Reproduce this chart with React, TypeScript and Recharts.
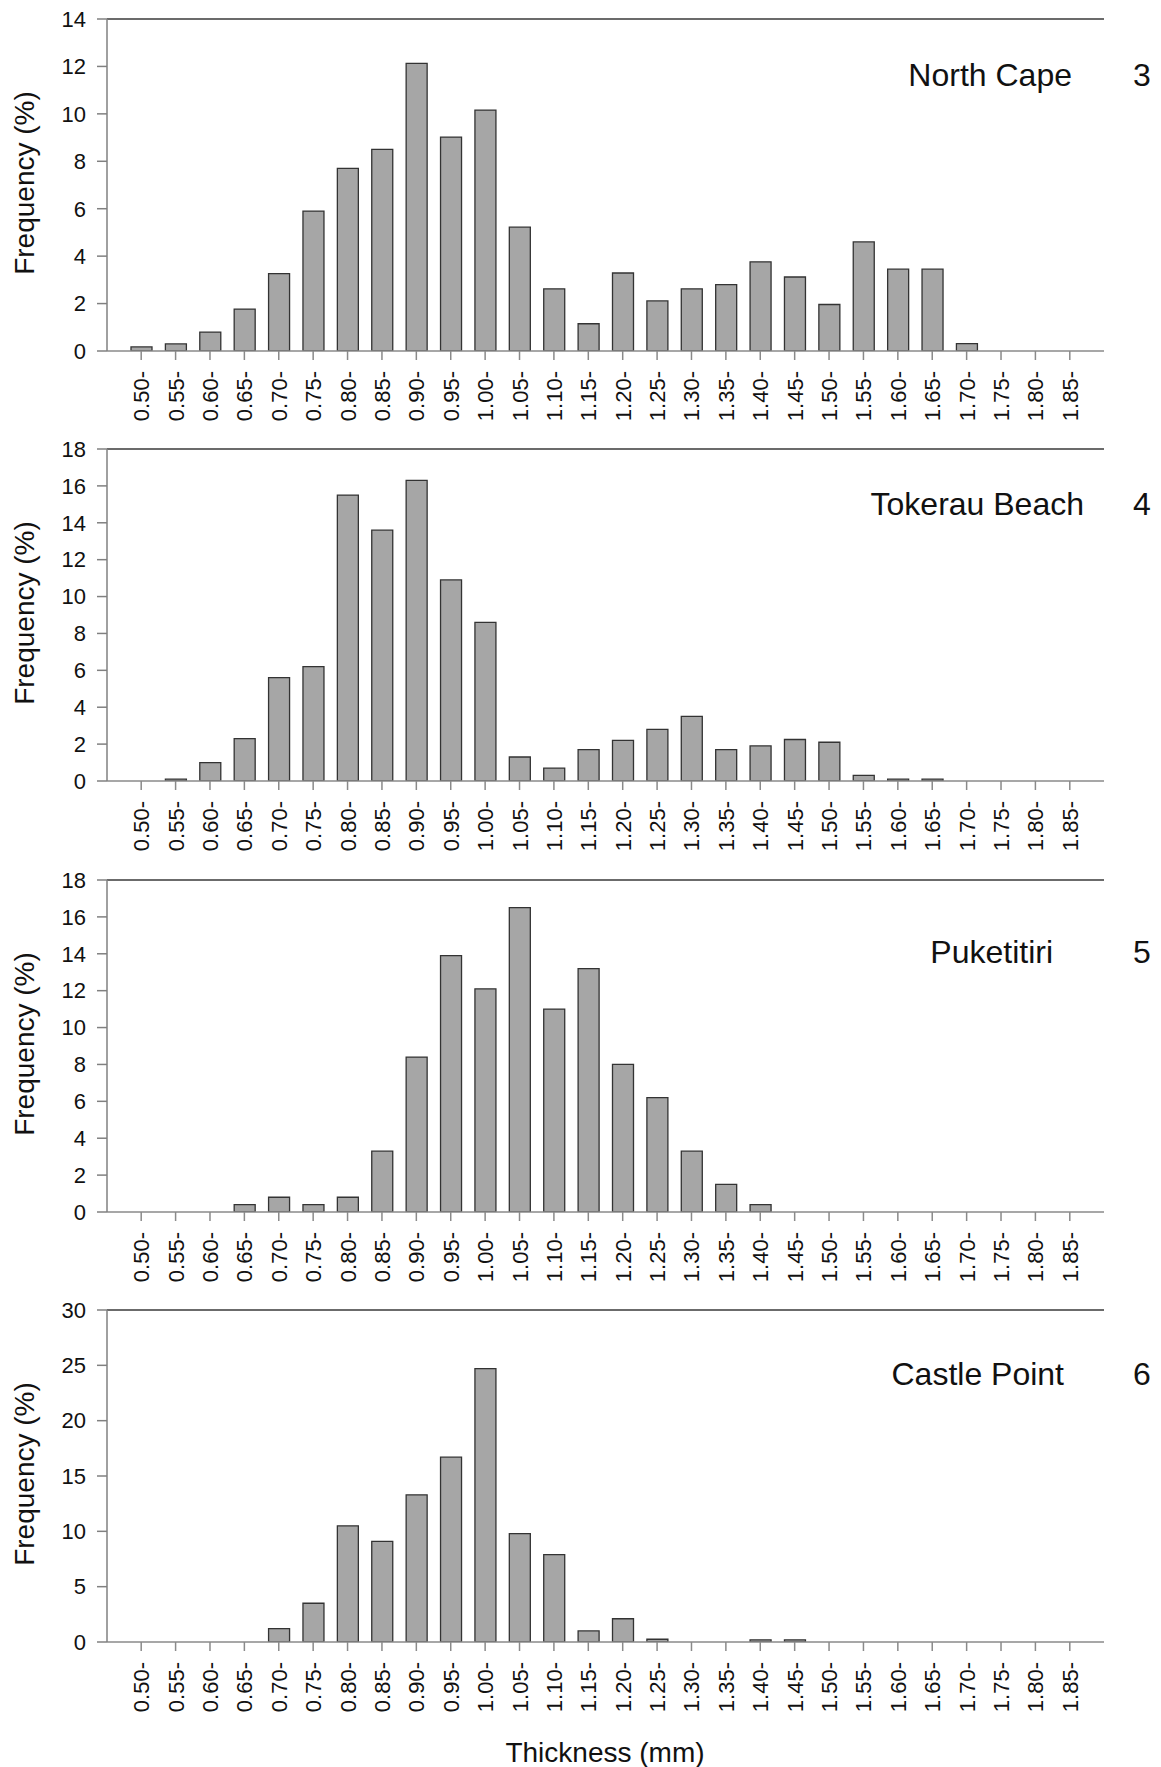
import React from 'react';
import { BarChart, Bar, XAxis, YAxis, ReferenceLine } from 'recharts';

const categories = [
  '0.50-', '0.55-', '0.60-', '0.65-', '0.70-', '0.75-', '0.80-', '0.85-', '0.90-', '0.95-',
  '1.00-', '1.05-', '1.10-', '1.15-', '1.20-', '1.25-', '1.30-', '1.35-', '1.40-', '1.45-',
  '1.50-', '1.55-', '1.60-', '1.65-', '1.70-', '1.75-', '1.80-', '1.85-',
];

const northCape = [0.17, 0.3, 0.8, 1.77, 3.26, 5.9, 7.7, 8.5, 12.13, 9.02, 10.16, 5.22, 2.62, 1.15, 3.29, 2.11, 2.62, 2.8, 3.76, 3.12, 1.96, 4.6, 3.45, 3.45, 0.31, 0, 0, 0];
const tokerauBeach = [0, 0.1, 1.0, 2.3, 5.6, 6.2, 15.5, 13.6, 16.3, 10.9, 8.6, 1.3, 0.7, 1.7, 2.2, 2.8, 3.5, 1.7, 1.9, 2.25, 2.1, 0.3, 0.1, 0.1, 0, 0, 0, 0];
const puketitiri = [0, 0, 0, 0.4, 0.8, 0.4, 0.8, 3.3, 8.4, 13.9, 12.1, 16.5, 11.0, 13.2, 8.0, 6.2, 3.3, 1.5, 0.4, 0, 0, 0, 0, 0, 0, 0, 0, 0];
const castlePoint = [0, 0, 0, 0, 1.2, 3.5, 10.5, 9.1, 13.3, 16.7, 24.7, 9.8, 7.9, 1.0, 2.1, 0.25, 0, 0, 0.2, 0.2, 0, 0, 0, 0, 0, 0, 0, 0];

const panelNames = ['North Cape', 'Tokerau Beach', 'Puketitiri', 'Castle Point'];
const panelNumbers = ['3', '4', '5', '6'];
const panelTicks = [
  [0, 2, 4, 6, 8, 10, 12, 14],
  [0, 2, 4, 6, 8, 10, 12, 14, 16, 18],
  [0, 2, 4, 6, 8, 10, 12, 14, 16, 18],
  [0, 5, 10, 15, 20, 25, 30],
];
const panelSeries = [northCape, tokerauBeach, puketitiri, castlePoint];
const yLabel = 'Frequency (%)';
const xLabel = 'Thickness (mm)';

const FONT = '"Liberation Sans", Arial, Helvetica, sans-serif';
const W = 1161;
const CH = 430;
const PLOT_H = 332;
const MARGIN_TOP = 20;
const panelTops = [19, 449, 880, 1310];
const titleRight = [1072, 1084, 1053, 1064];
const titleBaseline = [86, 515, 963, 1385];

const XTick = (props: any) => {
  const { x, y, payload } = props;
  return (
    <g transform={`translate(${x + 8},${y + 8}) rotate(-90)`}>
      <text x={0} y={0} textAnchor="end" fontFamily={FONT} fontSize={22} fill="#111">
        {payload.value}
      </text>
    </g>
  );
};

function Panel({ idx }: { idx: number }) {
  const values = panelSeries[idx];
  const ticks = panelTicks[idx];
  const max = ticks[ticks.length - 1];
  const data = categories.map((c, i) => ({ cat: c, v: values[i] }));
  return (
    <div style={{ position: 'absolute', left: 0, top: panelTops[idx] - MARGIN_TOP, width: W, height: CH }}>
      <BarChart
        width={W}
        height={CH}
        data={data}
        margin={{ top: MARGIN_TOP, right: 57, left: 47, bottom: CH - MARGIN_TOP - PLOT_H - 60 }}
        barCategoryGap={0}
      >
        <XAxis
          dataKey="cat"
          interval={0}
          height={60}
          padding={{ left: 17, right: 17 }}
          tickSize={9}
          tickMargin={3}
          tickLine={{ stroke: '#8a8a8a', strokeWidth: 1.5 }}
          axisLine={{ stroke: '#8a8a8a', strokeWidth: 1.5 }}
          tick={<XTick />}
        />
        <YAxis
          yAxisId="l"
          domain={[0, max]}
          ticks={ticks}
          width={60}
          tickSize={10}
          tickMargin={11}
          interval={0}
          allowDataOverflow
          tickLine={{ stroke: '#808080', strokeWidth: 1.5 }}
          axisLine={{ stroke: '#808080', strokeWidth: 1.5 }}
          tick={{ fontFamily: FONT, fontSize: 22, fill: '#111' }}
        />
        <YAxis
          yAxisId="r"
          orientation="right"
          domain={[0, max]}
          width={0}
          tick={false}
          tickLine={false}
          axisLine={{ stroke: '#808080', strokeWidth: 1.5 }}
        />
        <ReferenceLine yAxisId="l" y={max} stroke="#3a3a3a" strokeWidth={1.6} ifOverflow="visible" />
        <Bar
          yAxisId="l"
          dataKey="v"
          barSize={21}
          fill="#a6a6a6"
          stroke="#333333"
          strokeWidth={1.3}
          isAnimationActive={false}
        />
      </BarChart>
    </div>
  );
}

export default function App() {
  return (
    <div style={{ position: 'absolute', left: 0, top: 0, width: W, height: 1767, background: '#fff' }}>
      {[0, 1, 2, 3].map((i) => (
        <Panel key={i} idx={i} />
      ))}
      <svg width={W} height={1767} style={{ position: 'absolute', left: 0, top: 0, pointerEvents: 'none' }}>
        {[0, 1, 2, 3].map((i) => (
          <g key={i}>
            <text
              transform={`translate(34,${panelTops[i] + PLOT_H / 2 - 2}) rotate(-90)`}
              textAnchor="middle"
              fontFamily={FONT}
              fontSize={28}
              fill="#111"
            >
              {yLabel}
            </text>
            <text x={titleRight[i]} y={titleBaseline[i]} textAnchor="end" fontFamily={FONT} fontSize={32} fill="#111">
              {panelNames[i]}
            </text>
            <text x={1133} y={titleBaseline[i]} textAnchor="start" fontFamily={FONT} fontSize={32} fill="#111">
              {panelNumbers[i]}
            </text>
          </g>
        ))}
        <text x={605} y={1762} textAnchor="middle" fontFamily={FONT} fontSize={28} fill="#111">
          {xLabel}
        </text>
      </svg>
    </div>
  );
}
